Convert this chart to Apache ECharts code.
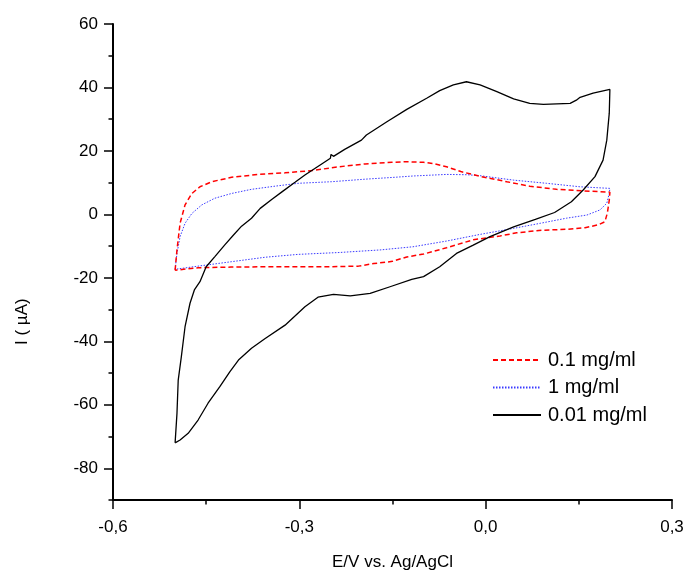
<!DOCTYPE html>
<html>
<head>
<meta charset="utf-8">
<script src="https://cdn.jsdelivr.net/npm/echarts@6/dist/echarts.min.js"></script>
<style>
  html, body { margin: 0; padding: 0; background: #ffffff; }
  #chart { width: 687px; height: 571px; }
</style>
</head>
<body>
<div id="chart"></div>
<script>
// Cyclic voltammograms: potential (V vs. Ag/AgCl) and current (µA), one closed loop per concentration.
const seriesNames = ['0.1 mg/ml', '1 mg/ml', '0.01 mg/ml'];

// 0.1 mg/ml
const potential01 = [
  -0.500, -0.497, -0.492, -0.484, -0.473, -0.460, -0.441, -0.409, -0.366, -0.323, -0.280,
  -0.237, -0.194, -0.151, -0.127, -0.100, -0.084, -0.063, -0.040, -0.009, 0.034, 0.071,
  0.114, 0.157, 0.200,
  0.199, 0.196, 0.192, 0.181, 0.160, 0.130, 0.090, 0.050, 0.023, -0.020, -0.063, -0.100,
  -0.127, -0.150, -0.180, -0.205, -0.250, -0.300, -0.355, -0.410, -0.463, -0.500
];
const current01 = [
  -17.6, -11.2, -2.8, 3.0, 6.6, 8.7, 10.3, 11.7, 12.6, 13.1, 13.8,
  15.0, 15.9, 16.4, 16.6, 16.4, 16.0, 15.0, 13.5, 12.0, 10.3, 8.9,
  7.9, 7.4, 7.0,
  4.5, 0.5, -2.3, -3.3, -4.2, -4.7, -5.0, -5.8, -6.8, -8.0, -10.5, -12.5,
  -13.4, -14.8, -15.5, -16.3, -16.5, -16.5, -16.5, -16.6, -16.8, -17.6
];

// 1 mg/ml
const potential1 = [
  -0.500, -0.497, -0.492, -0.484, -0.473, -0.457, -0.436, -0.409, -0.377, -0.339, -0.302,
  -0.248, -0.194, -0.146, -0.117, -0.063, -0.030, -0.009, 0.045, 0.098, 0.152, 0.200,
  0.199, 0.195, 0.184, 0.163, 0.130, 0.088, 0.045, -0.009, -0.063, -0.117, -0.170,
  -0.235, -0.302, -0.355, -0.409, -0.463, -0.500
];
const current1 = [
  -17.3, -12.3, -7.0, -2.8, 0.3, 3.0, 5.1, 6.6, 7.9, 8.9, 9.8,
  10.3, 11.1, 11.7, 12.1, 12.6, 12.5, 12.2, 10.8, 9.8, 8.7, 8.2,
  6.6, 3.5, 1.4, -0.2, -1.2, -2.8, -4.4, -6.3, -8.4, -10.2, -11.2,
  -12.0, -12.6, -13.5, -14.9, -16.3, -17.3
];

// 0.01 mg/ml
const potential001 = [
  -0.500, -0.497, -0.495, -0.490, -0.484, -0.476, -0.469, -0.460, -0.450, -0.436, -0.420,
  -0.406, -0.393, -0.377, -0.363, -0.344, -0.328, -0.307, -0.291, -0.264, -0.250, -0.249,
  -0.245, -0.227, -0.200, -0.192, -0.159, -0.127, -0.095, -0.074, -0.052, -0.031, -0.009,
  0.018, 0.045, 0.071, 0.093, 0.136, 0.146, 0.152, 0.173, 0.200,
  0.199, 0.195, 0.189, 0.176, 0.157, 0.138, 0.111, 0.080, 0.045, 0.007, -0.020, -0.047,
  -0.074, -0.100, -0.119, -0.154, -0.186, -0.218, -0.245, -0.270, -0.291, -0.323, -0.355,
  -0.377, -0.398, -0.412, -0.428, -0.447, -0.463, -0.479, -0.492, -0.500
];
const current001 = [
  -72.0, -62.7, -52.2, -44.9, -35.4, -28.0, -23.8, -21.2, -16.5, -13.3, -9.6,
  -6.5, -3.7, -1.2, 1.9, 4.8, 7.1, 10.1, 12.4, 15.9, 17.7, 18.9,
  18.3, 20.5, 23.4, 25.0, 29.2, 33.1, 36.6, 39.0, 40.8, 41.8, 40.8,
  38.7, 36.4, 35.0, 34.7, 35.0, 36.0, 36.9, 38.2, 39.4,
  31.9, 23.4, 17.1, 11.9, 7.7, 4.0, 0.6, -1.6, -3.9, -7.0, -9.7, -12.3,
  -16.5, -19.6, -20.5, -22.8, -24.9, -25.7, -25.2, -26.1, -29.1, -34.9, -39.1,
  -42.2, -45.9, -49.6, -54.3, -59.5, -64.8, -69.0, -71.1, -72.0
];

// Axis ranges and tick labels
const xRange = [-0.6, 0.3];
const yRange = [-90, 60];
const yLabelRange = [-80, 60];
const xTickLabels = ['-0,6', '-0,3', '0,0', '0,3'];

const zip = (xs, ys) => xs.map((x, i) => [x, ys[i]]);

// Plot frame in pixels
const W = 687, H = 571;
const plotLeft = 113, plotRight = 672, plotTop = 24, plotBottom = 500;
const pxPerUnitY = (plotBottom - plotTop) / (yRange[1] - yRange[0]);
const labelAxisBottom = plotTop + (yRange[1] - yLabelRange[0]) * pxPerUnitY;

const font = 'Liberation Sans, Arial, sans-serif';

const chart = echarts.init(document.getElementById('chart'), null, { renderer: 'canvas' });

const axisBlack = '#000000';

chart.setOption({
  backgroundColor: '#ffffff',
  animation: false,
  grid: [
    {
      left: plotLeft, right: W - plotRight, top: plotTop, bottom: H - plotBottom,
      containLabel: false, outerBoundsMode: 'none'
    },
    {
      left: plotLeft, right: W - plotRight, top: plotTop, bottom: H - labelAxisBottom,
      containLabel: false, outerBoundsMode: 'none'
    }
  ],
  xAxis: [
    {
      gridIndex: 0,
      type: 'value',
      min: xRange[0], max: xRange[1], interval: 0.3,
      name: 'E/V vs. Ag/AgCl',
      nameLocation: 'middle',
      nameGap: 54,
      nameTextStyle: { fontFamily: font, fontSize: 17, color: '#000' },
      axisLine: { show: true, onZero: false, lineStyle: { color: axisBlack, width: 2 } },
      axisTick: { show: true, inside: false, length: 9, lineStyle: { color: axisBlack, width: 1.5 } },
      minorTick: { show: true, splitNumber: 2, length: 4.5, lineStyle: { color: axisBlack, width: 1.5 } },
      axisLabel: {
        margin: 19, fontFamily: font, fontSize: 17, color: '#000',
        formatter: v => xTickLabels[Math.round((v - xRange[0]) / 0.3)] || ''
      },
      splitLine: { show: false }
    },
    {
      gridIndex: 1, type: 'value', min: xRange[0], max: xRange[1], show: false
    }
  ],
  yAxis: [
    {
      // full-range axis: line and the short ticks every 10 µA
      gridIndex: 0,
      type: 'value',
      min: yRange[0], max: yRange[1], interval: 10,
      axisLine: { show: true, onZero: false, lineStyle: { color: axisBlack, width: 2 } },
      axisTick: { show: true, length: 4.5, lineStyle: { color: axisBlack, width: 1.5 } },
      axisLabel: { show: false },
      splitLine: { show: false }
    },
    {
      // labelled axis: long ticks and labels every 20 µA
      gridIndex: 1,
      type: 'value',
      min: yLabelRange[0], max: yRange[1], interval: 20,
      axisLine: { show: false, onZero: false },
      axisTick: { show: true, length: 9, lineStyle: { color: axisBlack, width: 1.5 } },
      axisLabel: { margin: 15, fontFamily: font, fontSize: 17, color: '#000' },
      splitLine: { show: false }
    }
  ],
  legend: {
    left: 487,
    top: 345,
    orient: 'vertical',
    itemWidth: 48,
    itemHeight: 20,
    itemGap: 7.5,
    itemStyle: { color: 'transparent', borderColor: 'transparent', borderWidth: 0, opacity: 0 },
    textStyle: { fontFamily: font, fontSize: 20, color: '#000', padding: [0, 0, 0, 2] },
    data: seriesNames
  },
  graphic: [
    {
      type: 'text',
      rotation: Math.PI / 2,
      style: { text: 'I ( µA)', fontFamily: font, fontSize: 17, fill: '#000' },
      x: 14, y: 345
    }
  ],
  series: [
    {
      name: seriesNames[0],
      type: 'line',
      xAxisIndex: 0, yAxisIndex: 0,
      data: zip(potential01, current01),
      showSymbol: false, symbol: 'none',
      smooth: false,
      lineStyle: { color: '#ff0000', width: 1.5, type: [5, 3] },
      itemStyle: { color: '#ff0000' },
      z: 3
    },
    {
      name: seriesNames[1],
      type: 'line',
      xAxisIndex: 0, yAxisIndex: 0,
      data: zip(potential1, current1),
      showSymbol: false, symbol: 'none',
      smooth: false,
      lineStyle: { color: '#3a3aff', width: 1, type: [1.5, 1.5] },
      itemStyle: { color: '#3a3aff' },
      z: 2
    },
    {
      name: seriesNames[2],
      type: 'line',
      xAxisIndex: 0, yAxisIndex: 0,
      data: zip(potential001, current001),
      showSymbol: false, symbol: 'none',
      smooth: false,
      lineStyle: { color: '#000000', width: 1.3 },
      itemStyle: { color: '#000000' },
      z: 4
    }
  ]
});
</script>
</body>
</html>
